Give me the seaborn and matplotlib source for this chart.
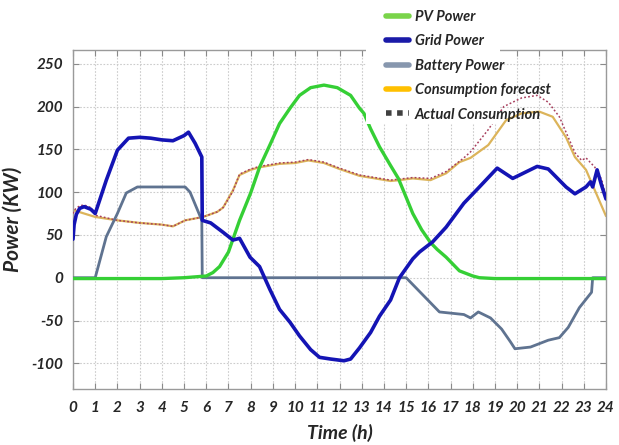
import matplotlib
matplotlib.use("Agg")
import matplotlib.pyplot as plt
from matplotlib.lines import Line2D
from matplotlib.patches import Rectangle
import seaborn as sns

# --- data (time in hours, power in kW) ---
t_pv = [0, 1, 2, 3, 4, 5, 5.5, 6, 6.3, 6.6, 7.0, 7.5, 8.0, 8.4, 8.9, 9.3, 9.8,
        10.2, 10.7, 11.3, 11.9, 12.5, 12.9, 13.1, 13.4, 13.8, 14.3, 14.65, 15.0,
        15.3, 15.7, 16.1, 16.4, 16.8, 17.4, 18.0, 18.3, 19, 20, 21, 22, 23, 24]
pv_power = [-1, -1, -1, -1, -1, 0, 1, 2, 6, 13, 30, 67, 99, 129, 157, 180, 199,
            213, 222, 225, 222, 213, 198, 192, 174, 153, 131, 116, 94,
            75, 56, 41, 33, 24, 8, 2, 0, -1, -1, -1, -1, -1, -1]

t_grid = [0, 0.05, 0.15, 0.3, 0.5, 0.8, 1.0, 1.5, 2.0, 2.5, 3.0, 3.5, 4.0, 4.5,
          5.0, 5.2, 5.5, 5.8, 5.82, 6.2, 6.76, 7.2, 7.5, 7.97, 8.4, 8.87, 9.3,
          9.77, 10.2, 10.7, 11.1, 11.6, 12.2, 12.5, 12.9, 13.4, 13.8, 14.3,
          14.7, 15.3, 15.6, 16.2, 16.8, 17.6, 18.3, 19.1, 19.8, 20.9, 21.4,
          22.2, 22.6, 23.1, 23.3, 23.4, 23.6, 23.8, 24.0]
grid_power = [45, 62, 74, 81, 83, 80, 75, 114, 149, 163, 164, 163, 161, 160,
              166, 170, 157, 141, 67, 64, 53, 44, 46, 24, 13, -14, -37,
              -52, -68, -84, -93, -95, -97, -95, -82, -64, -45, -26,
              0, 22, 30, 42, 59, 87, 106, 128, 116, 130, 127,
              106, 98, 106, 112, 106, 126, 108, 92]

t_bat = [0, 1.0, 1.5, 2.0, 2.4, 2.9, 5.05, 5.27, 5.8, 5.82, 15.0, 16.5, 17.6,
         17.9, 18.25, 18.8, 19.3, 19.7, 19.9, 20.6, 21.4, 21.9, 22.3, 22.8,
         23.35, 23.4, 24]
battery_power = [0, 0, 48, 75, 99, 106, 106, 100, 67, 0, 0, -40, -43,
                 -47, -40, -47, -60, -75, -83, -81, -73, -70, -58, -35,
                 -17, 0, 0]

t_fc = [0, 1, 2, 3, 4, 4.5, 5.05, 5.86, 6.5, 6.76, 7.2, 7.5, 8, 8.4, 9.3, 10,
        10.6, 11.3, 12, 12.9, 14.3, 14.7, 15.3, 16.1, 16.8, 17.4, 17.9, 18.7,
        19.5, 20.2, 21.0, 21.6, 22.2, 22.6, 23.1, 23.5, 24]
consumption_forecast = [79, 71, 67, 64, 62, 60, 67, 71, 77, 82, 102, 120, 126,
                        129, 133, 134, 137, 134, 127, 119, 113, 114, 116, 114,
                        122, 135, 140, 155, 184, 192, 194, 188, 164, 141, 126,
                        102, 72]

t_act = [0, 0.1, 0.3, 0.5, 0.8, 1.0, 2, 3, 4, 4.5, 5.05, 5.86, 6.5, 6.76, 7.2,
         7.5, 8, 8.4, 9.3, 10, 10.6, 11.3, 12, 12.9, 14.3, 15.3, 16.1, 16.8,
         17.6, 17.9, 18.7, 19.4, 20.2, 20.9, 21.4, 21.9, 22.3, 22.6, 22.9, 23.1,
         23.5, 23.8, 24]
actual_consumption = [75, 80, 84, 85, 82, 73, 67, 64, 62, 60, 67, 71, 77, 82,
                      101, 121, 127, 130, 134, 135, 138, 135, 128, 120, 114,
                      117, 116, 124, 140, 147, 173, 200, 210, 213, 205, 188,
                      164, 146, 137, 140, 129, 115, 95]

hours = list(range(0, 25))
power_ticks = [-100, -50, 0, 50, 100, 150, 200, 250]

series_labels = ["PV Power", "Grid Power", "Battery Power",
                 "Consumption forecast", "Actual Consumption"]

# --- style ---
sns.set_style("ticks")
plt.rcParams["font.family"] = ["Lato", "DejaVu Sans"]
plt.rcParams["axes.unicode_minus"] = False

fig = plt.figure(figsize=(6.19, 4.45), dpi=100)
ax = fig.add_axes([73 / 619, 1 - 389 / 445, (606 - 73) / 619, (389 - 50) / 445])

c_pv = "#35cf35"
c_grid = "#1414b4"
c_bat = "#5f7390"
c_fc = "#dcb45a"
c_act = "#a8405e"

sns.lineplot(x=t_fc, y=consumption_forecast, ax=ax, estimator=None, sort=False,
             color=c_fc, lw=1.6, zorder=2)
sns.lineplot(x=t_act, y=actual_consumption, ax=ax, estimator=None, sort=False,
             color=c_act, lw=1.1, ls=(0, (1.2, 1.4)), zorder=3)
sns.lineplot(x=t_bat, y=battery_power, ax=ax, estimator=None, sort=False,
             color=c_bat, lw=2.0, zorder=4)
sns.lineplot(x=t_pv, y=pv_power, ax=ax, estimator=None, sort=False,
             color=c_pv, lw=2.4, zorder=5)
sns.lineplot(x=t_grid, y=grid_power, ax=ax, estimator=None, sort=False,
             color=c_grid, lw=2.6, zorder=6)

ax.set_xlim(0, 24)
ax.set_ylim(-130, 266)
ax.set_xticks(hours)
ax.set_yticks(power_ticks)
ax.grid(True, color="#cccccc", ls=(0, (1.5, 1.5)), lw=0.8)
ax.set_axisbelow(True)
for s in ax.spines.values():
    s.set_color("#9a9a9a")
    s.set_linewidth(1.0)
ax.tick_params(direction="in", length=4, width=0.8, color="#8a8a8a",
               top=True, right=True, labelsize=11, pad=9)
ax.tick_params(axis="y", pad=7)
for lab in ax.get_xticklabels() + ax.get_yticklabels():
    lab.set_fontweight("bold")
    lab.set_fontstyle("italic")

ax.set_xlabel("Time (h)", fontsize=14, fontweight="bold", fontstyle="italic",
              labelpad=6)
ax.set_ylabel("Power (KW)", fontsize=15, fontweight="bold", fontstyle="italic",
              labelpad=6)

# white backing behind the legend block
fig.add_artist(Rectangle((366 / 619, 1 - 124 / 445), (500 - 366) / 619, 124 / 445,
                         transform=fig.transFigure, facecolor="white",
                         edgecolor="none", zorder=2))

handles = [
    Line2D([], [], color="#7ad44a", lw=4),
    Line2D([], [], color="#1a1aa8", lw=4),
    Line2D([], [], color="#8797ae", lw=4),
    Line2D([], [], color="#ffc000", lw=4),
    Line2D([], [], color="#404040", lw=4, ls=(0, (1, 1))),
]
leg = fig.legend(handles, series_labels, loc="upper left",
                 bbox_to_anchor=(373 / 619, 1 + 3 / 445), frameon=False,
                 prop={"weight": "bold", "style": "italic", "size": 10.5},
                 handlelength=1.6, handletextpad=0.35, labelspacing=0.71)
leg.set_zorder(5)

fig.savefig("out.png", dpi=100)
